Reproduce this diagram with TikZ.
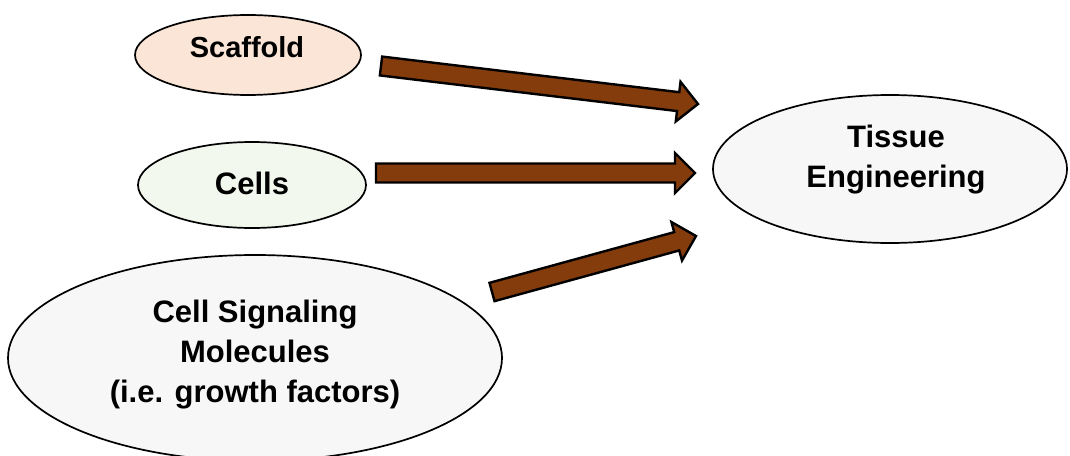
\documentclass[tikz,border=0pt]{standalone}
\usepackage{fontspec}
\setmainfont{Liberation Sans}
\usetikzlibrary{calc,shapes.geometric}

\definecolor{arrowbrown}{HTML}{843C0C}
\definecolor{peach}{HTML}{FBE5D6}
\definecolor{mint}{HTML}{F2F8EE}
\definecolor{pale}{HTML}{F7F7F7}

% Block arrow from tail coordinate #1 to tip coordinate #2
\newcommand\blockarrow[2]{%
  \coordinate (hb) at ($(#2)!20pt!(#1)$);
  \draw[arrowstyle]
    ($(#1)!9.5pt!90:(#2)$) -- ($(hb)!9.5pt!90:(#2)$) --
    ($(hb)!20pt!90:(#2)$) -- (#2) --
    ($(hb)!20pt!-90:(#2)$) -- ($(hb)!9.5pt!-90:(#2)$) --
    ($(#1)!9.5pt!-90:(#2)$) -- cycle;
}

\begin{document}
\begin{tikzpicture}[x=1pt,y=-1pt,
  bubble/.style={ellipse, draw=black, line width=1.7pt, inner sep=0pt},
  caption/.style={inner sep=0pt, align=center, font=\fontsize{31}{40}\selectfont\bfseries},
  arrowstyle/.style={fill=arrowbrown, draw=black, line width=2.4pt, line join=miter}]
\useasboundingbox (0,0) rectangle (1070,455);

% ellipses
\node[bubble, fill=peach, minimum width=226pt, minimum height=80pt] (scaffold) at (248,55) {};
\node[bubble, fill=mint, minimum width=228pt, minimum height=86pt] (cells) at (252,185) {};
\node[bubble, fill=pale, minimum width=494pt, minimum height=206pt] (signal) at (255,358) {};
\node[bubble, fill=pale, minimum width=354pt, minimum height=148pt] (tissue) at (890,169) {};

% captions
\node[caption, anchor=base, font=\fontsize{29}{36}\selectfont\bfseries] (scaffoldtext) at (247,57) {Scaffold};
\node[caption, anchor=base] (cellstext) at (252,194) {Cells};
\node[caption] (signaltext) at (255,355)
  {Cell Signaling\\Molecules\\(i.e. growth factors)};
\node[caption] (tissuetext) at (896,160)
  {Tissue\\Engineering};

% arrows
\coordinate (t1) at (381,66);
\coordinate (h1) at (698,104);
\coordinate (t2) at (376,173);
\coordinate (h2) at (695,173);
\coordinate (t3) at (492,292);
\coordinate (h3) at (696,236);

\blockarrow{t1}{h1}
\blockarrow{t2}{h2}
\blockarrow{t3}{h3}
\end{tikzpicture}
\end{document}
